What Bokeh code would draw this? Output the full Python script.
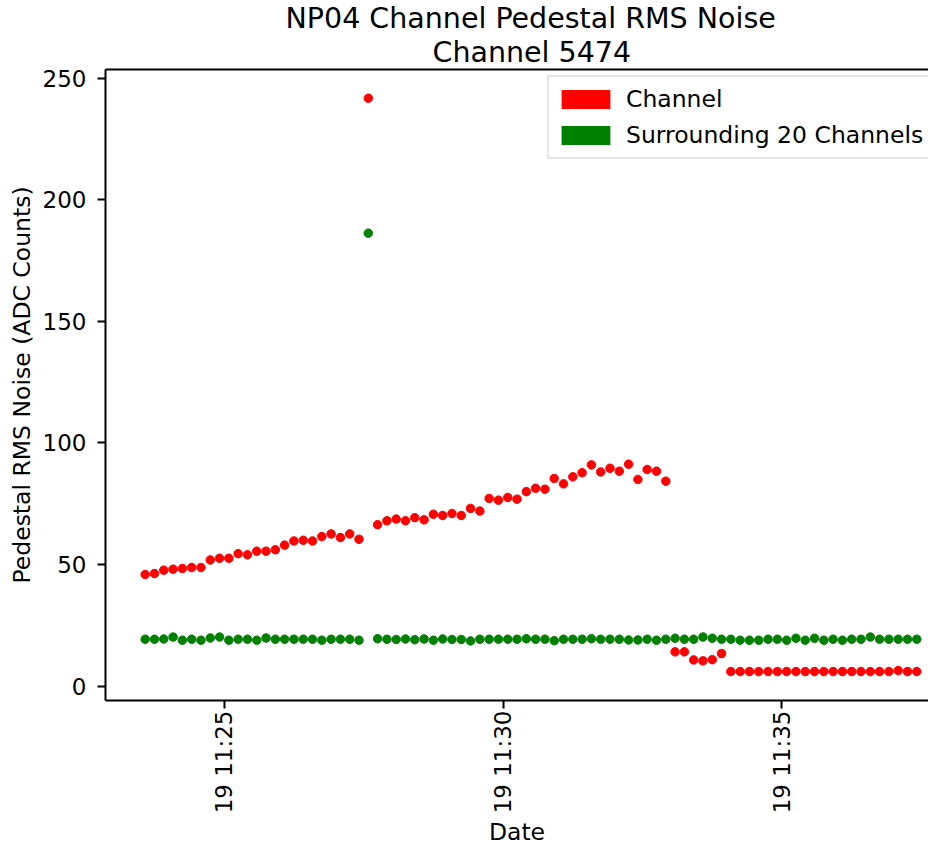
from math import pi
import pandas as pd
from bokeh.plotting import figure
from bokeh.models import (ColumnDataSource, Range1d, FixedTicker, DatetimeTickFormatter,
                          Legend, LegendItem, Title, LinearAxis)
from bokeh.embed import file_html
from bokeh.resources import INLINE

DAY = "2018-09-19"
times = [
    "11:23:35", "11:23:45", "11:23:55",
    "11:24:05", "11:24:15", "11:24:25", "11:24:35", "11:24:45", "11:24:55",
    "11:25:05", "11:25:15", "11:25:25", "11:25:35", "11:25:45", "11:25:55",
    "11:26:05", "11:26:15", "11:26:25", "11:26:35", "11:26:45", "11:26:55",
    "11:27:05", "11:27:15", "11:27:25", "11:27:35", "11:27:45", "11:27:55",
    "11:28:05", "11:28:15", "11:28:25", "11:28:35", "11:28:45", "11:28:55",
    "11:29:05", "11:29:15", "11:29:25", "11:29:35", "11:29:45", "11:29:55",
    "11:30:05", "11:30:15", "11:30:25", "11:30:35", "11:30:45", "11:30:55",
    "11:31:05", "11:31:15", "11:31:25", "11:31:35", "11:31:45", "11:31:55",
    "11:32:05", "11:32:15", "11:32:25", "11:32:35", "11:32:45", "11:32:55",
    "11:33:05", "11:33:15", "11:33:25", "11:33:35", "11:33:45", "11:33:55",
    "11:34:05", "11:34:15", "11:34:25", "11:34:35", "11:34:45", "11:34:55",
    "11:35:05", "11:35:15", "11:35:25", "11:35:35", "11:35:45", "11:35:55",
    "11:36:05", "11:36:15", "11:36:25", "11:36:35", "11:36:45", "11:36:55",
    "11:37:05", "11:37:15", "11:37:25",
]

channel = [
    45.9, 46.3, 47.7, 48.1, 48.4, 48.8, 48.8, 51.9, 52.6, 52.6,
    54.5, 54.0, 55.5, 55.5, 56.1, 58.0, 59.7, 60.0, 59.7, 61.5,
    62.6, 61.1, 62.6, 60.4, 241.8, 66.4, 68.0, 68.7, 68.0, 69.3,
    68.4, 70.7, 70.2, 71.0, 70.2, 73.1, 72.0, 77.2, 76.5, 77.6,
    76.9, 80.0, 81.4, 81.0, 85.4, 83.2, 86.1, 87.8, 91.0, 88.1,
    89.6, 88.4, 91.3, 85.0, 89.1, 88.4, 84.3, 14.1, 14.1, 10.8,
    10.4, 10.9, 13.4, 6.0, 6.0, 6.0, 6.0, 6.0, 6.0, 6.0,
    6.0, 6.0, 6.0, 6.0, 6.0, 6.0, 6.0, 6.0, 6.0, 6.0,
    6.0, 6.4, 6.0, 6.0,
]

surrounding = [
    19.3, 19.3, 19.4, 20.2, 18.9, 19.3, 18.9, 19.8, 20.2, 18.9,
    19.3, 19.3, 18.9, 19.8, 19.3, 19.3, 19.3, 19.3, 19.3, 18.9,
    19.3, 19.3, 19.3, 18.9, 186.3, 19.5, 19.3, 19.2, 19.4, 19.1,
    19.4, 18.9, 19.4, 19.2, 19.2, 18.6, 19.3, 19.3, 19.3, 19.3,
    19.3, 19.5, 19.3, 19.3, 18.7, 19.3, 19.3, 19.3, 19.5, 19.3,
    19.3, 19.3, 19.0, 19.0, 19.3, 18.9, 19.3, 19.7, 19.3, 19.3,
    20.2, 19.7, 19.3, 19.3, 18.9, 18.9, 18.9, 19.3, 19.3, 18.9,
    19.7, 18.9, 19.7, 18.9, 19.3, 18.9, 19.3, 19.3, 20.2, 19.3,
    19.3, 19.3, 19.3, 19.3,
]

y_ticks = [0, 50, 100, 150, 200, 250]
x_tick_times = ["11:25:00", "11:30:00", "11:35:00"]
x_start, x_end = "11:22:52.3", "11:37:37.6"
y_start, y_end = -5.9, 253.6

title_line1 = "NP04 Channel Pedestal RMS Noise"
title_line2 = "Channel 5474"
legend_labels = ["Channel", "Surrounding 20 Channels"]

FONT = "DejaVu Sans"


def ts(t):
    return pd.Timestamp(DAY + " " + t)


x = [ts(t) for t in times]
src_ch = ColumnDataSource(dict(x=x, y=channel))
src_sr = ColumnDataSource(dict(x=x, y=surrounding))

p = figure(width=928, height=849, output_backend="svg", toolbar_location=None,
           x_axis_type="datetime",
           x_range=Range1d(ts(x_start), ts(x_end)),
           y_range=Range1d(y_start, y_end),
           min_border_left=105, min_border_right=0, min_border_top=69, min_border_bottom=146)
p.outline_line_color = None
p.xgrid.visible = False
p.ygrid.visible = False
p.background_fill_color = "white"
p.border_fill_color = "white"

p.scatter("x", "y", source=src_ch, size=8.5, fill_color="red", line_color="red")
p.scatter("x", "y", source=src_sr, size=8.5, fill_color="green", line_color="green")

# legend proxies (invisible rectangles using the same data)
prox_ch = p.rect("x", "y", width=0, height=0, source=src_ch, fill_color="red", line_color=None)
prox_sr = p.rect("x", "y", width=0, height=0, source=src_sr, fill_color="green", line_color=None)
prox_ch.visible = False
prox_sr.visible = False

legend = Legend(items=[LegendItem(label=legend_labels[0], renderers=[prox_ch]),
                       LegendItem(label=legend_labels[1], renderers=[prox_sr])],
                location=(442, 541))
legend.inactive_fill_alpha = 0
legend.glyph_width = 61
legend.glyph_height = 24
legend.label_height = 32
legend.label_standoff = 10
legend.label_text_font = FONT
legend.label_text_font_size = "23.5px"
legend.label_text_color = "black"
legend.padding = 6
legend.spacing = 4
legend.margin = 0
legend.border_line_color = "#cccccc"
legend.border_line_width = 2
legend.background_fill_color = "white"
legend.background_fill_alpha = 0.8
p.add_layout(legend, "center")

# axes styling
for ax in (p.xaxis[0], p.yaxis[0]):
    ax.axis_line_color = "black"
    ax.axis_line_width = 2
    ax.major_tick_line_color = "black"
    ax.major_tick_line_width = 2
    ax.major_tick_out = 8
    ax.major_tick_in = 0
    ax.minor_tick_line_color = None
    ax.major_label_text_font = FONT
    ax.major_label_text_font_size = "23px"
    ax.major_label_text_color = "black"
    ax.axis_label_text_font = FONT
    ax.axis_label_text_font_size = "23.5px"
    ax.axis_label_text_font_style = "normal"
    ax.axis_label_text_color = "black"

p.yaxis.ticker = FixedTicker(ticks=y_ticks)
p.yaxis.axis_label = "Pedestal RMS Noise (ADC Counts)"
p.yaxis.major_label_standoff = 11
p.yaxis.axis_label_standoff = 4

p.xaxis.ticker = FixedTicker(ticks=[ts(t).value / 1e6 for t in x_tick_times])
p.xaxis.formatter = DatetimeTickFormatter(minutes="%d %H:%M", hours="%d %H:%M",
                                          minsec="%d %H:%M", seconds="%d %H:%M")
p.xaxis.major_label_orientation = pi / 2
p.xaxis.axis_label = "Date"
p.xaxis.major_label_standoff = 2
p.xaxis.axis_label_standoff = 2

# top spine
top_axis = LinearAxis(ticker=FixedTicker(ticks=[]), axis_line_color="black", axis_line_width=2,
                      major_tick_line_color=None, minor_tick_line_color=None)
p.add_layout(top_axis, "above")

p.add_layout(Title(text=title_line2, align="left", offset=327, text_font=FONT,
                   text_font_size="28.5px", text_font_style="normal", text_color="black",
                   standoff=1), "above")
p.add_layout(Title(text=title_line1, align="left", offset=180, text_font=FONT,
                   text_font_size="28.5px", text_font_style="normal", text_color="black",
                   standoff=-2), "above")

open("out.html", "w").write(file_html(p, INLINE))
